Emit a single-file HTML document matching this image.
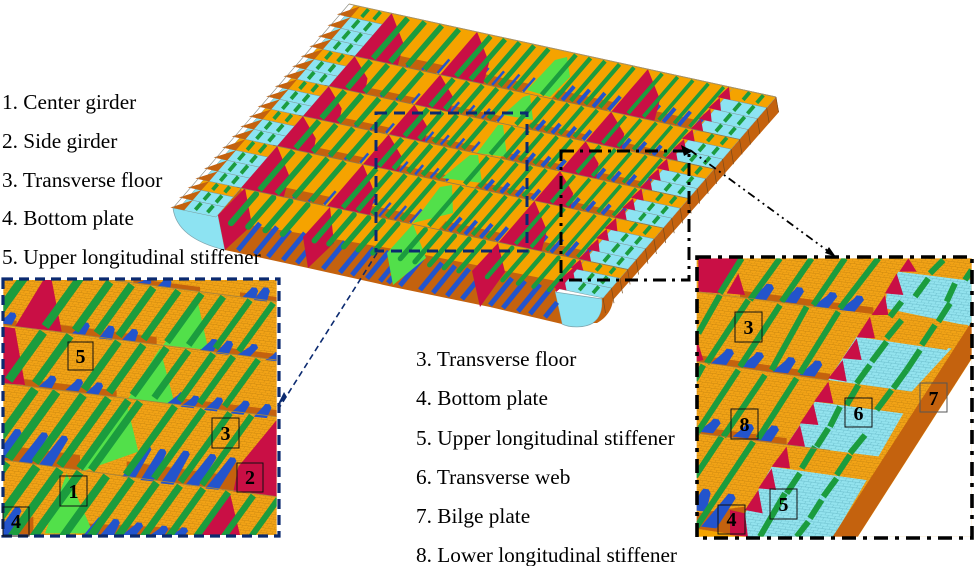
<!DOCTYPE html>
<html><head><meta charset="utf-8"><style>
html,body{margin:0;padding:0;background:#fff;width:975px;height:566px;overflow:hidden}
svg{display:block}
text{font-family:"Liberation Serif",serif;fill:#000}
.l{font-size:21.300px}
.n{font-size:20px;font-weight:bold;text-anchor:middle}
</style></head><body>
<svg id="s" xmlns="http://www.w3.org/2000/svg" width="975" height="566" viewBox="0 0 975 566">
<defs>
<pattern id="po" width="18" height="14" patternUnits="userSpaceOnUse" patternTransform="skewX(-20) rotate(7)">
<rect width="18" height="14" fill="#f2a316"/><path d="M0 0H18M0 7H18M4 0V7M13 7V14" stroke="#c8850f" stroke-width="1.3" fill="none"/></pattern>
<pattern id="pc" width="22" height="16" patternUnits="userSpaceOnUse" patternTransform="skewX(-20) rotate(7)">
<rect width="22" height="16" fill="#93e3ee"/><path d="M0 0H22M0 8H22M5 0V8M16 8V16" stroke="#62b5c4" stroke-width="1.3" fill="none"/></pattern>
<clipPath id="c1"><rect x="10" y="30" width="820" height="765"/></clipPath>
<clipPath id="c2"><rect x="20" y="25" width="825" height="835"/></clipPath>
</defs>
<g id="hull"></g>
<g id="ins1" transform="translate(0,270) scale(.33333)" clip-path="url(#c1)"></g>
<g id="ins2" transform="translate(690,250) scale(.33333)" clip-path="url(#c2)"></g>
<g fill="none">
<rect x="376" y="113" width="151" height="138" stroke="#0b2a70" stroke-width="3" stroke-dasharray="11 7"/>
<path d="M377 253L279 408" stroke="#0b2a70" stroke-width="1.6" stroke-dasharray="6 4"/>
<rect x="3" y="279" width="276" height="257" stroke="#0b2a70" stroke-width="3.2" stroke-dasharray="10 6"/>
<rect x="561" y="151" width="128" height="129" stroke="#000" stroke-width="3" stroke-dasharray="13 6 3 6"/>
<path d="M690 150L832 254" stroke="#000" stroke-width="1.8" stroke-dasharray="8 4 2 4 2 4"/>
<rect x="697" y="257" width="275" height="281" stroke="#000" stroke-width="3.6" stroke-dasharray="14 7 4 7"/>
</g>
<path d="M681 145L693 151L684 156Z" fill="#000"/>
<path d="M836 257L825 253L829 247Z" fill="#000"/>
<path d="M277 406L284 392L287 397Z" fill="#0b2a70"/>
<g fill="none" stroke="#111" stroke-width="1">
<rect x="68" y="342" width="25" height="28"/><rect x="212" y="418" width="27" height="30"/><rect x="237" y="463" width="26" height="29"/><rect x="60" y="476" width="27" height="30"/><rect x="3" y="507" width="26" height="29"/>
<rect x="735" y="312" width="27" height="30"/><rect x="731" y="409" width="27" height="30"/><rect x="845" y="398" width="27" height="29"/><rect x="920" y="383" width="27" height="29" stroke="#555"/><rect x="770" y="489" width="27" height="30"/><rect x="718" y="505" width="27" height="29"/>
</g>
<text class="n" x="80.500" y="363">5</text><text class="n" x="225.500" y="440">3</text><text class="n" x="250" y="484">2</text><text class="n" x="73.500" y="498">1</text><text class="n" x="16" y="528">4</text>
<text class="n" x="748.500" y="334">3</text><text class="n" x="744.500" y="431">8</text><text class="n" x="858.500" y="420">6</text><text class="n" x="933.500" y="405">7</text><text class="n" x="783.500" y="511">5</text><text class="n" x="731.500" y="526">4</text>
<text class="l" x="2" y="109">1. Center girder</text>
<text class="l" x="2" y="148">2. Side girder</text>
<text class="l" x="2" y="187">3. Transverse floor</text>
<text class="l" x="2" y="225">4. Bottom plate</text>
<text class="l" x="2" y="264">5. Upper longitudinal stiffener</text>
<text class="l" x="416" y="366">3. Transverse floor</text>
<text class="l" x="416" y="405">4. Bottom plate</text>
<text class="l" x="416" y="445">5. Upper longitudinal stiffener</text>
<text class="l" x="416" y="484">6. Transverse web</text>
<text class="l" x="416" y="523">7. Bilge plate</text>
<text class="l" x="416" y="562">8. Lower longitudinal stiffener</text>
</svg>
<script>
var NS="http://www.w3.org/2000/svg";
var O="#f5a300",R="#c90f45",C="#8de3f2",B="#c4620e",G="#1b9c3e",L="#52e04a",U="#2354cc";
function el(g,n,a){var e=document.createElementNS(NS,n);for(var k in a)e.setAttribute(k,a[k]);g.appendChild(e);return e}
function poly(g,p,f,st,sw){var a={points:p.map(function(q){return q[0].toFixed(1)+","+q[1].toFixed(1)}).join(" "),fill:f};if(st){a.stroke=st;a["stroke-width"]=sw||.6}el(g,"polygon",a)}
function line(g,a,b,c,w,cap){el(g,"line",{x1:a[0],y1:a[1],x2:b[0],y2:b[1],stroke:c,"stroke-width":w,"stroke-linecap":cap||"butt"})}
function stub(g,s,sc){var x0=s[0],y0=s[1],x1=s[2],y1=s[3];sc=sc||1;poly(g,[[x0-22*sc,y0],[x0+24*sc,y0+5*sc],[x1+17*sc,y1+10*sc],[x1+11*sc,y1-2*sc],[x1-5*sc,y1-4*sc],[x1-13*sc,y1+6*sc]],U)}
var A=[349,4],Bb=[776,97],Cc=[603,298],D=[173,208];
function P(u,v){var tx=A[0]+(Bb[0]-A[0])*u,ty=A[1]+(Bb[1]-A[1])*u,bx=D[0]+(Cc[0]-D[0])*u,by=D[1]+(Cc[1]-D[1])*u;return[tx+(bx-tx)*v,ty+(by-ty)*v]}
var h=document.getElementById("hull");
var rows=[0,43,73,103,133,175,204].map(function(y){return y/204});
/* side face */
poly(h,[Bb,[779,112],[613,300],[609,311],[600,319],[590,300],Cc],B);
/* bilge ends */
el(h,"path",{d:"M173 208L218 215L225 250C200 244 176 232 173 208Z",fill:C,stroke:"#7fa7b0","stroke-width":.8});
el(h,"path",{d:"M555 292L602 299C603 310 600 318 593 323C585 328 570 328 562 324Z",fill:C,stroke:"#7fa7b0","stroke-width":.8});
el(h,"path",{d:"M602 299L613 300C612 310 606 318 597 323L593 323C600 318 603 310 602 299Z",fill:B});
/* top plate */
poly(h,[P(.09,0),P(.9,0),P(.9,rows[5]),P(.09,rows[5])],O);
/* bottom front plate */
poly(h,[P(.1,rows[5]),P(.9,rows[5]),[555,292],[562,324],[490,307],[393,287],[308,268],[225,250],[218,215]],B);
/* orange hang last row */
poly(h,[P(.1,rows[5]),P(.9,rows[5]),[556,281],[400,250],[250,225]],O);
var gaps=[[.16,.29],[.36,.49],[.56,.69],[.76,.885]];
for(var r=0;r<5;r++){var v0=rows[r],v1=rows[r+1],rh=v1-v0;
  gaps.forEach(function(g,i){
    var t=rh*.2;
    poly(h,[P(g[0],v1-t),P(g[1],v1-t),P(g[1],v1),P(g[0],v1)],B);
    for(var u=g[0]+.01;u<g[1];u+=.036){line(h,P(u+.014,v1-.004),P(u+.014,v1-rh*.34),U,i<2?2.500:4)}
  });
}
/* light green centre panels */
[[[567,57],[570,77],[550,97],[527,90],[555,60]],
 [[530,95],[533,120],[503,115],[523,97]],
 [[503,125],[507,157],[477,153],[498,125]],
 [[478,155],[482,183],[442,178],[470,155]],
 [[452,185],[453,213],[413,223],[440,187]]].forEach(function(p){poly(h,p,L)});
/* crimson in last row */
poly(h,[[245,188],[252,225],[225,250],[218,215]],R);
/* front blue */
[238,255,268,283,297,323,340,352,367,380,388,400,420,433,447,462,490,503,518,530,545].forEach(function(x){
 if(x>=470&&x<=485)return;var y=250+(x-223)*.218-3;var l=(x>540)?.55:1;line(h,[x,y],[x+22*l,y-27*l],U,5)});
poly(h,[[413,224],[426,258],[393,285],[387,253]],L);
poly(h,[[330,207],[334,243],[308,268],[303,237]],R);
poly(h,[[498,243],[505,272],[480,307],[472,271]],R);
poly(h,[[580,262],[578,274],[556,292],[555,284]],R);
/* cells */
var ve=[4,15,26,37,47,57,67,77,87,97,107,117,127,137,148,158,169,179,188,198,208].map(function(y){return (y-4)/204});
var kinds="OCCCOCCOCCOCCOCCCOCC";
function cells(u0,u1){for(var i=0;i<20;i++){var f=kinds[i]=="O"?O:C;
  poly(h,[P(u0,ve[i]),P(u1,ve[i]),P(u1,ve[i+1]),P(u0,ve[i+1])],f,"#7c9a9c",.5);
}
for(var i=0;i<20;i++){[u0+(u1-u0)*.4,u0+(u1-u0)*.72].forEach(function(u){line(h,P(u,ve[i]+.004),P(u,ve[i+1]-.012),G,3.8)})}}
cells(.012,.1);
cells(.9,1);
for(var i=0;i<20;i++){poly(h,[P(.026,ve[i]),P(.026,ve[i+1]),P(-.006,ve[i+1])],B)}
for(var i=0;i<20;i++){poly(h,[P(.89,ve[i]),P(.915,ve[i+1]),P(.885,ve[i+1])],R)}
/* green stiffeners + crimson girders */
var us=[];
[[.1,.04,4],[.3,.034,5],[.5,.034,5],[.7,.036,5]].forEach(function(g){for(var k=1;k<=g[2];k++)us.push(g[0]+g[1]*k)});
for(var r=0;r<5;r++){var v0=rows[r],v1=rows[r+1],rh=v1-v0;
  var du=.085*Math.sqrt(rh/.15);
  [.1,.3,.7].forEach(function(g){poly(h,[P(g,v0),P(g+du*.75,v0+rh*.55),P(g+du,v1),P(g,v1)],R)});
  us.forEach(function(u){line(h,P(u,v0+.006),P(u,v1-.008),G,Math.max(3.6,6.2-u*3))});
}
us.forEach(function(u){var a=P(u,rows[5]+.012);var w=Math.max(4,6.5-u*2.5);line(h,a,[a[0]-25,a[1]+29],G,w,"round")});
/* row lines + side lines */
for(var r=0;r<6;r++){line(h,P(.09,rows[r]),P(1,rows[r]),"#8c7a50",.8)}
line(h,P(0,0),P(1,0),"#a99468",.9);
for(var i=0;i<=20;i++){var a=P(1,ve[i]);line(h,a,[a[0]+2.500,a[1]+15],"#7a4a1a",.7)}
line(h,[173,208],[349,4],"#8a8a80",.6);

/* ---------- left inset ---------- */
var a=document.getElementById("ins1");
el(a,"rect",{x:0,y:0,width:900,height:820,fill:"url(#po)"});
function L0(x){return 30+(x-330)*.13}function L1(x){return 165+(x-10)*.128}function L2(x){return 340+(x-10)*.122}function L3(x){return 570+(x-10)*.134}function L4(x){return 880+(x-10)*.13}
var LL=[L0,L1,L2,L3,L4];
function strip(g,fn,x0,x1,t){poly(g,[[x0,fn(x0)-t],[x1,fn(x1)-t],[x1,fn(x1)],[x0,fn(x0)]],B)}
[[L0,400,600,14],[L0,720,830,14],[L1,165,470,22],[L1,10,50,18],[L1,600,830,18],[L2,70,350,20],[L2,520,830,20],[L3,10,240,45],[L3,380,710,45]].forEach(function(s){strip(a,s[0],s[1],s[2],s[3])});
poly(a,[[10,795],[100,795],[100,740],[10,775]],B);
poly(a,[[250,795],[560,795],[560,775],[250,760]],B);
poly(a,[[690,575],[710,578],[710,665],[665,660]],B);
[[[130,30],[155,30],[185,185],[45,170]],[[10,170],[45,175],[75,345],[10,340]],[[830,450],[830,680],[700,665],[715,590]],[[690,670],[720,795],[600,795]]].forEach(function(p){poly(a,p,R)});
[[[590,80],[625,240],[490,225]],[[480,235],[525,405],[385,385]],[[380,400],[415,545],[245,605]],[[200,610],[280,790],[135,790]]].forEach(function(p){poly(a,p,L)});
[[15,160,35,130],[235,190,255,160],[315,205,330,170],[385,210,400,180],[620,240,640,210],[665,250,685,215],[730,255,760,225],[815,270,830,250],[135,350,155,320],[215,360,235,330],[275,370,295,340],[520,400,545,370],[560,410,585,380],[630,420,655,385],[710,430,735,395],[780,440,800,405],[5,560,50,480],[75,575,130,490],[135,585,190,500],[385,620,440,530],[440,630,485,540],[500,640,555,545],[575,645,635,555],[635,655,695,565],[5,795,50,715],[270,795,300,745],[320,795,345,750],[385,795,415,760],[470,795,490,770],[530,795,550,775],[490,50,500,28],[430,38,440,28],[745,82,760,55],[780,90,795,55]].forEach(function(b){stub(a,b,.85)});
[[85,240,330,395,460,535,605,670,750,820],[130,210,355,430,500,565,640,700,775],[105,170,250,325,385,420,525,610,690,755],[20,110,180,240,320,395,470,540,610,685,760,835]].forEach(function(xs,r){
 xs.forEach(function(x){var y0=LL[r](x)+6;var d=LL[r+1](x-100)-y0-12;if(r==3)d=230;line(a,[x,y0],[x-.72*d,y0+d],G,Math.max(18,28-x*.012))})});
[L0,L1,L2,L3].forEach(function(f){line(a,[0,f(0)],[900,f(900)],"#a8843c",2.500)});

/* ---------- right inset ---------- */
var b=document.getElementById("ins2");
el(b,"rect",{x:0,y:0,width:900,height:900,fill:"url(#po)"});
function M1(x){return 125+(x-20)*.127}function M2(x){return 335+(x-20)*.142}function M3(x){return 550+(x-20)*.127}function M4(x){return 835+(x-20)*.13}
[[M1,150,550,20],[M2,20,420,20],[M3,20,290,20]].forEach(function(s){strip(b,s[0],s[1],s[2],s[3])});
poly(b,[[20,790],[165,770],[165,860],[20,835]],B);
poly(b,[[20,838],[170,858],[170,870],[20,870]],O);
poly(b,[[25,25],[150,25],[90,130],[25,125]],R);
poly(b,[[145,70],[165,135],[110,130]],R);
poly(b,[[20,265],[40,330],[20,335]],R);
poly(b,[[120,780],[165,790],[175,860],[120,855]],R);
var cy=[[[625,65],[845,90],[845,230],[585,175],[590,130]],[[500,260],[785,295],[665,425],[415,390]],[[375,455],[640,490],[565,620],[290,585]],[[245,650],[530,690],[425,870],[175,870],[165,790]]];
var orb=[[[675,25],[845,25],[845,60],[825,90],[625,65]],[[540,195],[835,225],[770,300],[500,260]],[[415,395],[690,430],[640,490],[375,455]],[[290,585],[570,620],[530,690],[245,650]]];
cy.forEach(function(p){poly(b,p,"url(#pc)")});
orb.forEach(function(p){poly(b,p,"url(#po)")});
poly(b,[[845,215],[845,325],[500,865],[425,865]],B);
poly(b,[[846,325],[500,866],[900,900],[900,325]],"#fff");
[[[655,25],[680,65],[628,65]],[[620,70],[640,135],[585,130]],[[585,135],[595,195],[545,195]],[[540,200],[555,265],[500,262]],[[500,265],[515,330],[458,325]],[[458,330],[470,395],[415,385]],[[415,395],[430,460],[372,455]],[[370,460],[385,525],[330,520]],[[330,525],[345,590],[290,585]],[[290,590],[300,655],[245,650]],[[245,655],[258,720],[205,715]],[[205,720],[218,790],[165,780]]].forEach(function(p){poly(b,p,R)});
[[205,145,235,105],[295,155,325,115],[390,170,425,130],[470,180,505,140],[85,340,115,300],[170,350,205,310],[270,365,300,325],[350,375,380,335],[45,545,75,510],[150,560,175,525],[220,570,250,530],[25,780,45,720],[55,830,120,735]].forEach(function(s){stub(b,s,1)});
[[155,25,90,130],[270,25,180,150],[365,25,275,155],[465,25,370,165],[565,25,450,175],
 [90,135,25,250],[175,150,50,340],[270,165,150,350],[350,170,245,360],[445,185,330,370],
 [40,345,15,390],[145,360,20,550],[225,375,100,560],[320,385,205,565],
 [95,560,15,680],[190,575,20,830]].forEach(function(s){line(b,[s[0],s[1]],[s[2],s[3]],G,18)});
[[760,30,720,70],[845,60,825,90],[715,85,675,140],[635,155,600,200],[795,100,770,155],[780,160,745,215],[635,210,590,265],[735,225,695,285],[590,275,545,335],[540,345,500,400],[690,300,650,360],[650,360,610,415],[505,405,470,465],[605,420,560,480],[450,470,420,530],[415,535,380,590],[525,555,480,610],[375,590,335,655],[480,615,440,675],[330,670,290,730],[285,730,210,860],[440,685,400,740],[395,750,360,805],[355,815,320,860]].forEach(function(s){line(b,[s[0],s[1]],[s[2],s[3]],G,18)});
[M1,M2,M3].forEach(function(f){line(b,[0,f(0)],[420,f(420)],"#a8843c",2)});
</script>
</body></html>
